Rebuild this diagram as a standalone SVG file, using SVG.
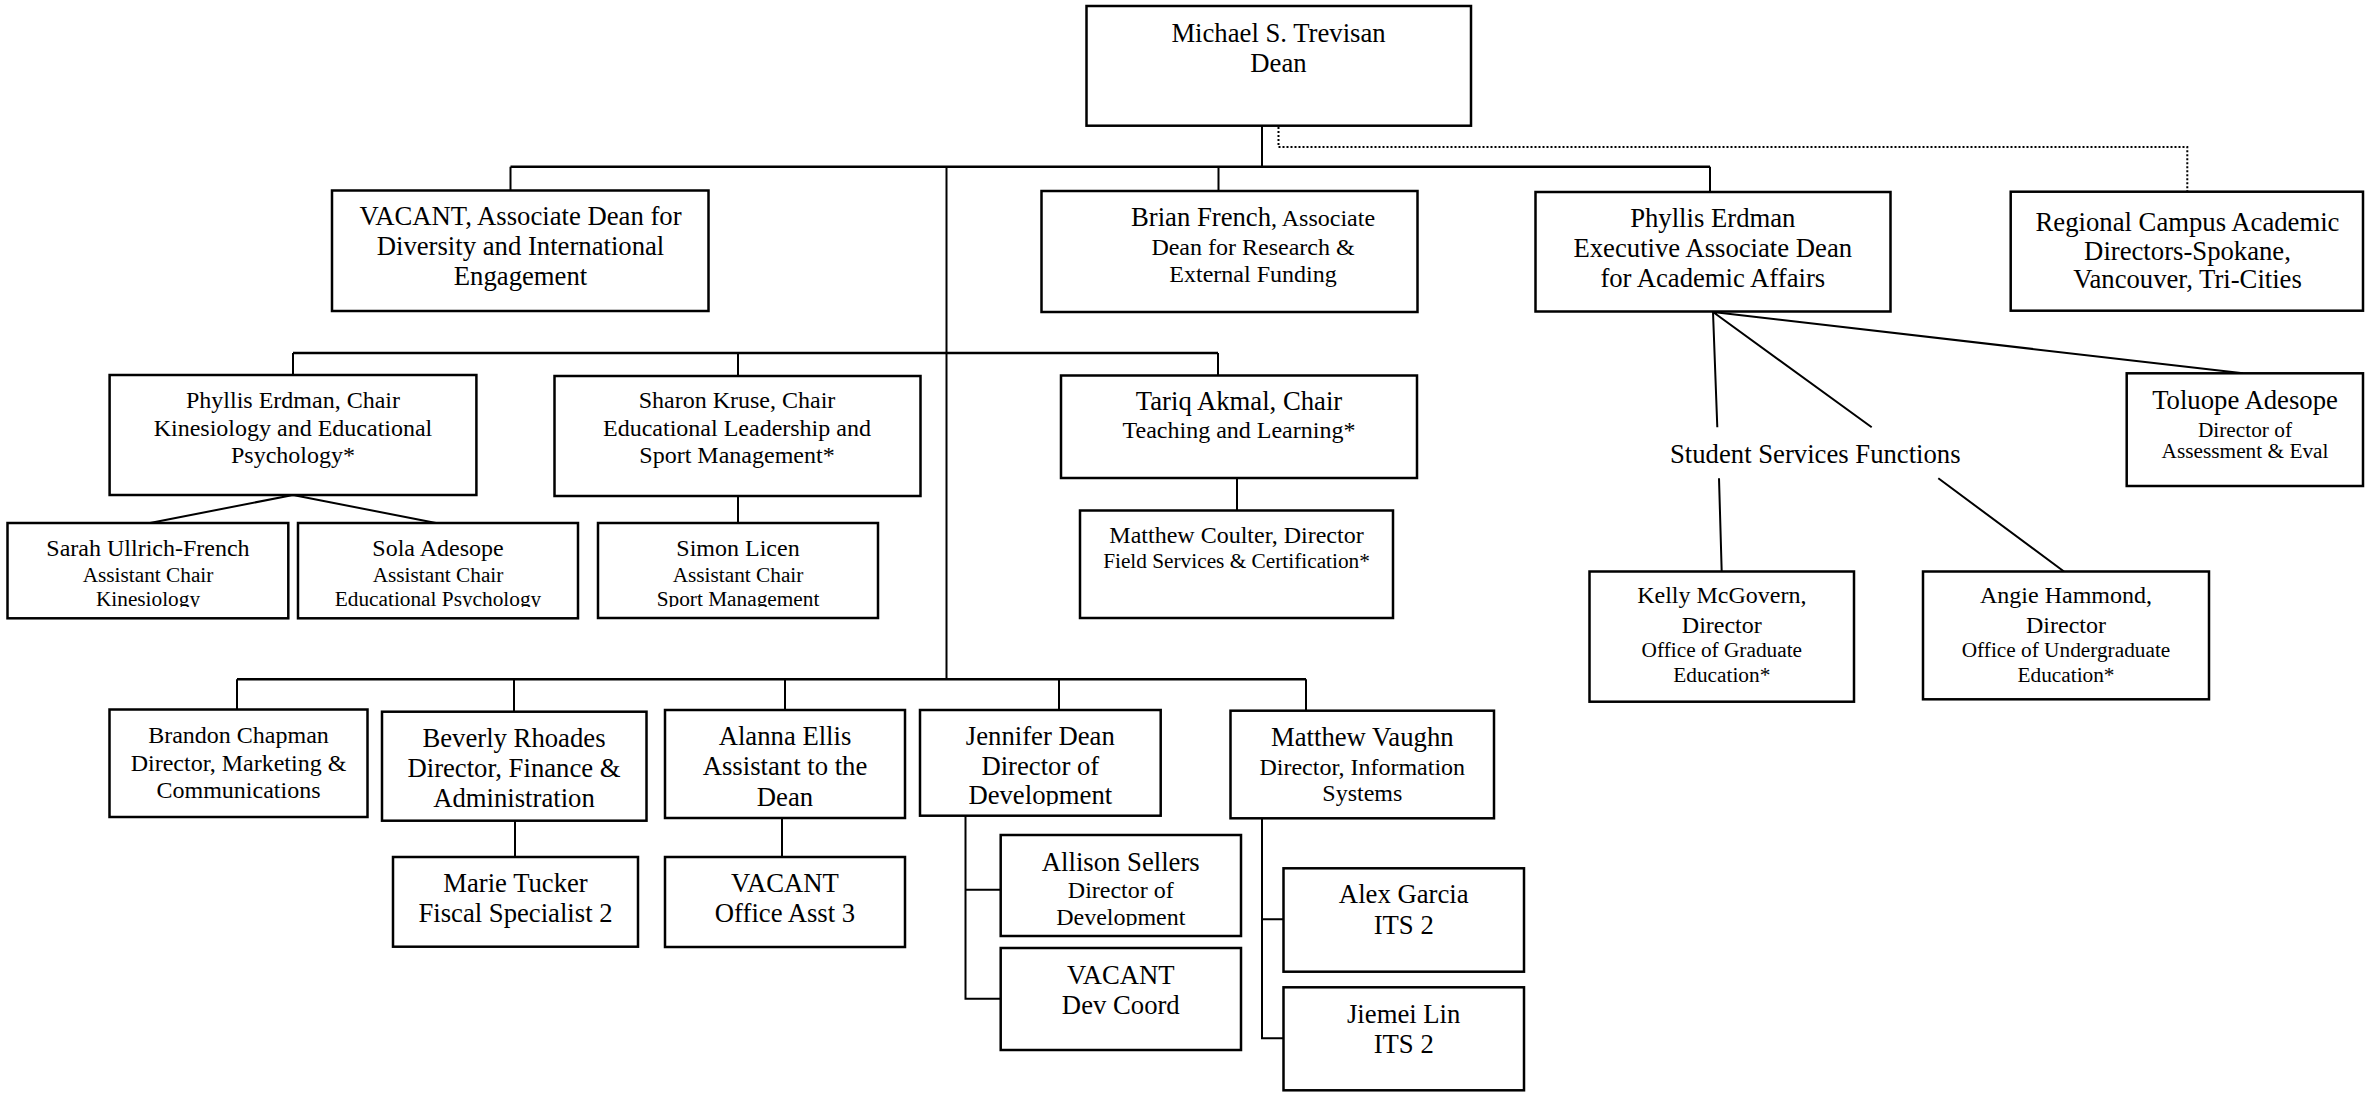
<svg xmlns="http://www.w3.org/2000/svg" width="2365" height="1094" viewBox="0 0 2365 1094">
<style>
text{font-family:"Liberation Serif","Times New Roman",serif;fill:#000;text-anchor:middle}
.L{font-size:26.7px}
.M{font-size:24px}
.S{font-size:21.3px}
.box{fill:#fff;stroke:#000;stroke-width:2.5}
.ln{fill:none;stroke:#000;stroke-width:2}
.bus{fill:none;stroke:#000;stroke-width:2.5}
.dot{fill:none;stroke:#000;stroke-width:2;stroke-dasharray:2 2}
</style>
<defs>
<clipPath id="cSarah"><rect x="8" y="523" width="280" height="84"/></clipPath>
<clipPath id="cSola"><rect x="298" y="523" width="280" height="84"/></clipPath>
<clipPath id="cSimon"><rect x="598" y="523" width="280" height="84"/></clipPath>
<clipPath id="cJen"><rect x="920" y="710" width="241" height="96"/></clipPath>
<clipPath id="cAll"><rect x="1001" y="835" width="240" height="91"/></clipPath>
</defs>
<rect width="2365" height="1094" fill="#fff"/>
<g id="connectors">
<path class="ln" d="M1262 126V166.7"/>
<path class="bus" d="M510.5 166.7H1710"/>
<path class="ln" d="M510.5 166.7V190.5M1218.5 166.7V191M1710 166.7V192M946.5 166.7V679.3"/>
<path class="dot" d="M1278.5 127V147H2187.3V191.7"/>
<path class="bus" d="M293 353H1218"/>
<path class="ln" d="M293 353V375M738 353V376M1218 353V375.5"/>
<path class="ln" d="M293 495L150 523M293 495L436 523"/>
<path class="ln" d="M738 496V523"/>
<path class="ln" d="M1237 478V510.5"/>
<path class="bus" d="M237 679.3H1306"/>
<path class="ln" d="M237 679.3V709.5M514 679.3V711.7M785 679.3V710M1059 679.3V710M1306 679.3V710.7"/>
<path class="ln" d="M515 820.7V857M782 818V857"/>
<path class="ln" d="M965.5 815.7V998.7H1000.7M965.5 889.7H1000.7"/>
<path class="ln" d="M1262 818.3V1038.3H1283.5M1262 919.3H1283.5"/>
<path class="ln" d="M1713 312L1717.3 427.3M1713 312L1871.7 427.3M1713 312L2243 373.3"/>
<path class="ln" d="M1719 478.3L1721.7 571.5M1938.3 478.3L2064 571.5"/>
</g>
<g id="dean"><rect class="box" x="1086.5" y="6" width="384.5" height="119.7"/>
<text class="L" x="1278.5" y="41.7">Michael S. Trevisan</text><text class="L" x="1278.5" y="71.7">Dean</text></g>
<g id="vacant-ad"><rect class="box" x="332" y="190.5" width="376.5" height="120.5"/>
<text class="L" x="520.5" y="225">VACANT, Associate Dean for</text><text class="L" x="520.5" y="255">Diversity and International</text><text class="L" x="520.5" y="285">Engagement</text></g>
<g id="brian-french"><rect class="box" x="1041.5" y="191" width="376" height="121"/>
<text x="1253" y="226"><tspan class="L">Brian French</tspan><tspan class="M">, Associate</tspan></text><text class="M" x="1253" y="255">Dean for Research &amp;</text><text class="M" x="1253" y="281.7">External Funding</text></g>
<g id="phyllis-exec"><rect class="box" x="1535.5" y="192" width="355" height="119.5"/>
<text class="L" x="1712.8" y="226.7">Phyllis Erdman</text><text class="L" x="1712.8" y="256.7">Executive Associate Dean</text><text class="L" x="1712.8" y="286.7">for Academic Affairs</text></g>
<g id="regional"><rect class="box" x="2010.7" y="191.7" width="352.3" height="119"/>
<text class="L" x="2187.5" y="230.5">Regional Campus Academic</text><text class="L" x="2187.5" y="259.5">Directors-Spokane,</text><text class="L" x="2187.5" y="288.3">Vancouver, Tri-Cities</text></g>
<g id="phyllis-chair"><rect class="box" x="109.6" y="375" width="366.8" height="120"/>
<text class="M" x="293" y="408">Phyllis Erdman, Chair</text><text class="M" x="293" y="436">Kinesiology and Educational</text><text class="M" x="293" y="462.7">Psychology*</text></g>
<g id="sharon"><rect class="box" x="554.5" y="376" width="366" height="120"/>
<text class="M" x="737" y="408">Sharon Kruse, Chair</text><text class="M" x="737" y="436">Educational Leadership and</text><text class="M" x="737" y="462.7">Sport Management*</text></g>
<g id="tariq"><rect class="box" x="1061" y="375.5" width="356" height="102.5"/>
<text class="L" x="1239" y="410">Tariq Akmal, Chair</text><text class="M" x="1239" y="438.3">Teaching and Learning*</text></g>
<g id="sarah"><rect class="box" x="7.5" y="523" width="280.8" height="95.3"/>
<g clip-path="url(#cSarah)"><text class="M" x="148" y="556">Sarah Ullrich-French</text><text class="S" x="148" y="581.7">Assistant Chair</text><text class="S" x="148" y="605.5">Kinesiology</text></g></g>
<g id="sola"><rect class="box" x="298" y="523" width="280" height="95.3"/>
<g clip-path="url(#cSola)"><text class="M" x="438" y="556">Sola Adesope</text><text class="S" x="438" y="581.7">Assistant Chair</text><text class="S" x="438" y="605.5">Educational Psychology</text></g></g>
<g id="simon"><rect class="box" x="598" y="523" width="280" height="95"/>
<g clip-path="url(#cSimon)"><text class="M" x="738" y="556">Simon Licen</text><text class="S" x="738" y="581.7">Assistant Chair</text><text class="S" x="738" y="605.5">Sport Management</text></g></g>
<g id="coulter"><rect class="box" x="1080" y="510.5" width="313" height="107.5"/>
<text class="M" x="1236.5" y="542.7">Matthew Coulter, Director</text><text class="S" x="1236.5" y="568.3">Field Services &amp; Certification*</text></g>
<g id="student-services"><text class="L" x="1815.3" y="462.7">Student Services Functions</text></g>
<g id="toluope"><rect class="box" x="2126.7" y="373.3" width="236.3" height="112.7"/>
<text class="L" x="2245" y="409.3">Toluope Adesope</text><text class="S" x="2245" y="436.7">Director of</text><text class="S" x="2245" y="458.3">Assessment &amp; Eval</text></g>
<g id="kelly"><rect class="box" x="1589.5" y="571.5" width="264.5" height="130.2"/>
<text class="M" x="1721.8" y="603.3">Kelly McGovern,</text><text class="M" x="1721.8" y="632.7">Director</text><text class="S" x="1721.8" y="656.7">Office of Graduate</text><text class="S" x="1721.8" y="681.7">Education*</text></g>
<g id="angie"><rect class="box" x="1923" y="571.5" width="286" height="127.8"/>
<text class="M" x="2066" y="603.3">Angie Hammond,</text><text class="M" x="2066" y="632.7">Director</text><text class="S" x="2066" y="656.7">Office of Undergraduate</text><text class="S" x="2066" y="681.7">Education*</text></g>
<g id="brandon"><rect class="box" x="109.5" y="709.5" width="258" height="107.5"/>
<text class="M" x="238.5" y="743.3">Brandon Chapman</text><text class="M" x="238.5" y="771">Director, Marketing &amp;</text><text class="M" x="238.5" y="798.3">Communications</text></g>
<g id="beverly"><rect class="box" x="382" y="711.7" width="264.5" height="109"/>
<text class="L" x="514" y="747.3">Beverly Rhoades</text><text class="L" x="514" y="776.7">Director, Finance &amp;</text><text class="L" x="514" y="806.7">Administration</text></g>
<g id="alanna"><rect class="box" x="665" y="710" width="240" height="108"/>
<text class="L" x="785" y="745">Alanna Ellis</text><text class="L" x="785" y="775">Assistant to the</text><text class="L" x="785" y="805.7">Dean</text></g>
<g id="jennifer"><rect class="box" x="920" y="710" width="240.7" height="105.7"/>
<g clip-path="url(#cJen)"><text class="L" x="1040.3" y="745">Jennifer Dean</text><text class="L" x="1040.3" y="775">Director of</text><text class="L" x="1040.3" y="804">Development</text></g></g>
<g id="vaughn"><rect class="box" x="1230.5" y="710.7" width="263.5" height="107.6"/>
<text class="L" x="1362.3" y="746">Matthew Vaughn</text><text class="M" x="1362.3" y="775">Director, Information</text><text class="M" x="1362.3" y="801">Systems</text></g>
<g id="marie"><rect class="box" x="393" y="857" width="245" height="89.7"/>
<text class="L" x="515.5" y="891.7">Marie Tucker</text><text class="L" x="515.5" y="922.3">Fiscal Specialist 2</text></g>
<g id="vacant-oa"><rect class="box" x="665" y="857" width="240" height="90"/>
<text class="L" x="785" y="891.7">VACANT</text><text class="L" x="785" y="922.3">Office Asst 3</text></g>
<g id="allison"><rect class="box" x="1000.7" y="835" width="240.3" height="101"/>
<g clip-path="url(#cAll)"><text class="L" x="1120.8" y="870.7">Allison Sellers</text><text class="M" x="1120.8" y="898.3">Director of</text><text class="M" x="1120.8" y="925">Development</text></g></g>
<g id="vacant-dc"><rect class="box" x="1000.7" y="948" width="240.3" height="102"/>
<text class="L" x="1120.8" y="984">VACANT</text><text class="L" x="1120.8" y="1014">Dev Coord</text></g>
<g id="alex"><rect class="box" x="1283.5" y="868.3" width="240.5" height="103.4"/>
<text class="L" x="1403.7" y="903.3">Alex Garcia</text><text class="L" x="1403.7" y="934">ITS 2</text></g>
<g id="jiemei"><rect class="box" x="1283.5" y="987.3" width="240.5" height="103"/>
<text class="L" x="1403.7" y="1022.7">Jiemei Lin</text><text class="L" x="1403.7" y="1053.3">ITS 2</text></g>
</svg>
